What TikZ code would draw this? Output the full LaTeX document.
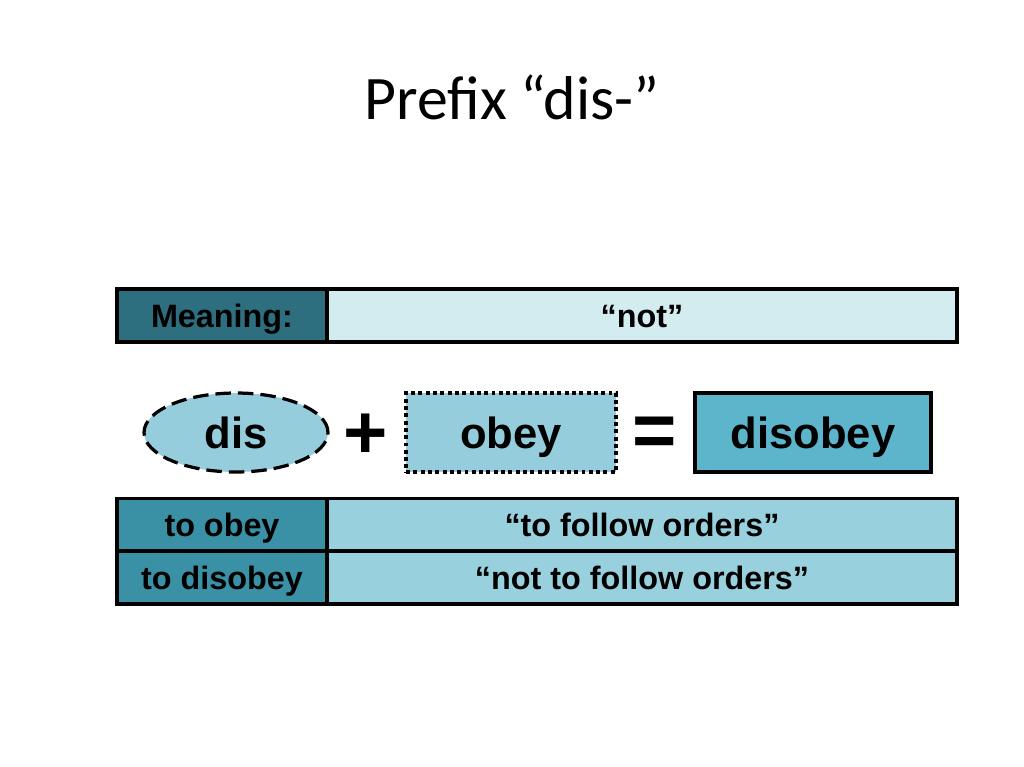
\documentclass[tikz,border=0pt]{standalone}
\usepackage{fontspec}
\setmainfont{Liberation Sans}
\newfontfamily\titlefont{Carlito}
\usetikzlibrary{shapes,positioning}
\definecolor{darkteal}{HTML}{2D6F7E}
\definecolor{paleteal}{HTML}{D2ECEF}
\definecolor{midteal}{HTML}{3A91A6}
\definecolor{lightteal}{HTML}{98D0DE}
\definecolor{wordfill}{HTML}{96CDDC}
\definecolor{resultfill}{HTML}{5DB5CB}
\tikzset{
  cell/.style={draw,line width=2.3pt,minimum height=53pt*0.711,inner sep=0pt,
    text height=16.5pt,text depth=0pt,
    font=\bfseries\fontsize{23}{26}\selectfont},
  word/.style={line width=2.3pt,minimum height=79*0.711pt,inner sep=0pt,
    text height=22.3pt,text depth=0pt,
    font=\bfseries\fontsize{31}{34}\selectfont},
  sign/.style={inner sep=0pt,font=\bfseries\fontsize{54}{54}\selectfont}
}
\begin{document}
\begin{tikzpicture}[x=0.025cm,y=-0.025cm]
\useasboundingbox[fill=white] (0,0) rectangle (1024,767);
\node (title) at (512,97) {\titlefont\fontsize{44}{50}\selectfont Prefix “dis-”};

% meaning row
\node[cell,fill=darkteal,minimum width=210*0.711pt] (meaning) at (222,315.5) {Meaning:};
\node[cell,fill=paleteal,minimum width=630*0.711pt] (notcell) at (642,315.5) {“not”};

% word equation
\node[word,ellipse,draw,dash pattern=on 11pt off 5pt,fill=wordfill,
  minimum width=184*0.711pt] (dis) at (236,432.5) {dis};
\node[sign] (plus) at (366,436) {+};
\node[word,draw,dash pattern=on 2.8pt off 2.4pt,fill=wordfill,
  minimum width=210*0.711pt] (obey) at (511,432.5) {obey};
\node[sign] (equals) at (655,437) {=};
\node[word,draw,fill=resultfill,minimum width=236*0.711pt] (disobey) at (813,432.5) {disobey};

% examples
\node[cell,fill=midteal,minimum width=210*0.711pt] (toobey) at (222,525) {to obey};
\node[cell,fill=lightteal,minimum width=630*0.711pt] (follow) at (642,525) {“to follow orders”};
\node[cell,fill=midteal,minimum width=210*0.711pt] (todisobey) at (222,577.5) {to disobey};
\node[cell,fill=lightteal,minimum width=630*0.711pt] (notfollow) at (642,577.5) {“not to follow orders”};
\end{tikzpicture}
\end{document}
